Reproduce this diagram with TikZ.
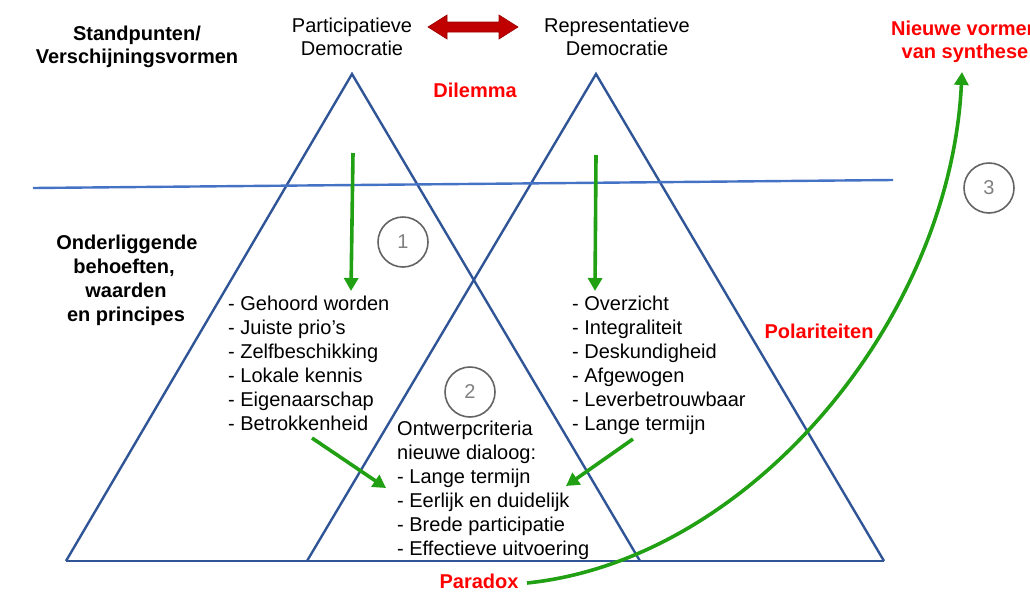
\documentclass[tikz,border=0pt]{standalone}
\usepackage{fontspec}
\setmainfont{Liberation Sans}
\usetikzlibrary{arrows.meta}
\definecolor{triblue}{RGB}{47,85,151}
\definecolor{lineblue}{RGB}{68,114,196}
\definecolor{arrgreen}{RGB}{34,160,20}
\definecolor{txtred}{RGB}{255,0,0}
\definecolor{darkred}{RGB}{192,0,0}
\definecolor{circgray}{RGB}{100,100,100}
\definecolor{numgray}{RGB}{128,128,128}
\tikzset{
  tri/.style={draw=triblue,line width=2.4pt,line join=miter},
  divline/.style={draw=lineblue,line width=2.4pt},
  garrow/.style={draw=arrgreen,line width=3.6pt,-{Triangle[length=13pt,width=14pt]}},
  listtxt/.style={inner sep=0pt,anchor=base west,font=\fontsize{20}{24}\selectfont},
  ctrtxt/.style={inner sep=0pt,anchor=base,font=\fontsize{20}{24}\selectfont},
  boldtxt/.style={inner sep=0pt,anchor=base,font=\fontsize{20}{24}\selectfont\bfseries},
  redtxt/.style={boldtxt,text=txtred},
  numcirc/.style={circle,draw=circgray,line width=1.6pt,minimum size=50pt,inner sep=0pt,text=numgray,font=\fontsize{20}{24}\selectfont}
}
\begin{document}
\begin{tikzpicture}[x=1pt,y=-1pt]
\useasboundingbox (0,0) rectangle (1030,595);
\clip (0,0) rectangle (1030,595);
% triangles
\coordinate (LA) at (352,74);
\coordinate (LB1) at (66,561);
\coordinate (LB2) at (640,561);
\coordinate (RA) at (596,74);
\coordinate (RB1) at (307,561);
\coordinate (RB2) at (884,561);
\draw[tri] (LB1) -- (LA) -- (LB2);
\draw[tri] (RB1) -- (RA) -- (RB2);
\draw[tri] (LB1) -- (RB2);
% horizontal divider
\coordinate (H1) at (33,188);
\coordinate (H2) at (893,180);
\draw[divline] (H1) -- (H2);
% headers
\node[ctrtxt] (p1) at (352,32) {Participatieve};
\node[ctrtxt] (p2) at (352,55) {Democratie};
\node[ctrtxt] (r1) at (617,32) {Representatieve};
\node[ctrtxt] (r2) at (617,55) {Democratie};
\node[boldtxt] (s1) at (137,40) {Standpunten/};
\node[boldtxt] (s2) at (137,63) {Verschijningsvormen};
\node[redtxt] (dil) at (475,97) {Dilemma};
\node[redtxt] (nv1) at (965,35) {Nieuwe vormen};
\node[redtxt] (nv2) at (965,58) {van synthese};
\node[boldtxt] (o1) at (127,249) {Onderliggende};
\node[boldtxt] (o2) at (124,273) {behoeften,};
\node[boldtxt] (o3) at (126,297) {waarden};
\node[boldtxt] (o4) at (126,321) {en principes};
\node[redtxt] (pol) at (819,338) {Polariteiten};
\node[redtxt] (par) at (479,588) {Paradox};
% red double arrow
\fill[darkred,draw=darkred!80!black,line width=0.6pt]
  (428,27) -- (447,15) -- (447,22) -- (499,22) -- (499,15) -- (518,27)
  -- (499,39) -- (499,32) -- (447,32) -- (447,39) -- cycle;
% lists
\foreach \t [count=\i] in {- Gehoord worden,- Juiste prio’s,- Zelfbeschikking,- Lokale kennis,- Eigenaarschap,- Betrokkenheid}
  \node[listtxt] (L\i) at (228,{310+(\i-1)*24}) {\t};
\foreach \t [count=\i] in {- Overzicht,- Integraliteit,- Deskundigheid,- Afgewogen,- Leverbetrouwbaar,- Lange termijn}
  \node[listtxt] (R\i) at (572,{310+(\i-1)*24}) {\t};
\foreach \t [count=\i] in {Ontwerpcriteria,nieuwe dialoog:,- Lange termijn,- Eerlijk en duidelijk,- Brede participatie,- Effectieve uitvoering}
  \node[listtxt] (C\i) at (397,{435+(\i-1)*24}) {\t};
% circles
\node[numcirc] (n1) at (403,242) {1};
\node[numcirc] (n2) at (470,392) {2};
\node[numcirc] (n3) at (989,188) {3};
% green arrows
\coordinate (ga1) at (353,153);
\coordinate (ga2) at (596,155);
\coordinate (ga3) at (312,438);
\coordinate (ga4) at (633,439);
\coordinate (gt1) at (351,291);
\coordinate (gt2) at (595,291);
\coordinate (gt3) at (386,488);
\coordinate (gt4) at (566,486);
\draw[garrow] (ga1) -- (gt1);
\draw[garrow] (ga2) -- (gt2);
\draw[garrow] (ga3) -- (gt3);
\draw[garrow] (ga4) -- (gt4);
% big curved arrow
\coordinate (cs) at (527,583);
\coordinate (ce) at (962,72);
\draw[garrow] (cs) .. controls (750,560) and (950,320) .. (ce);
\end{tikzpicture}
\end{document}
